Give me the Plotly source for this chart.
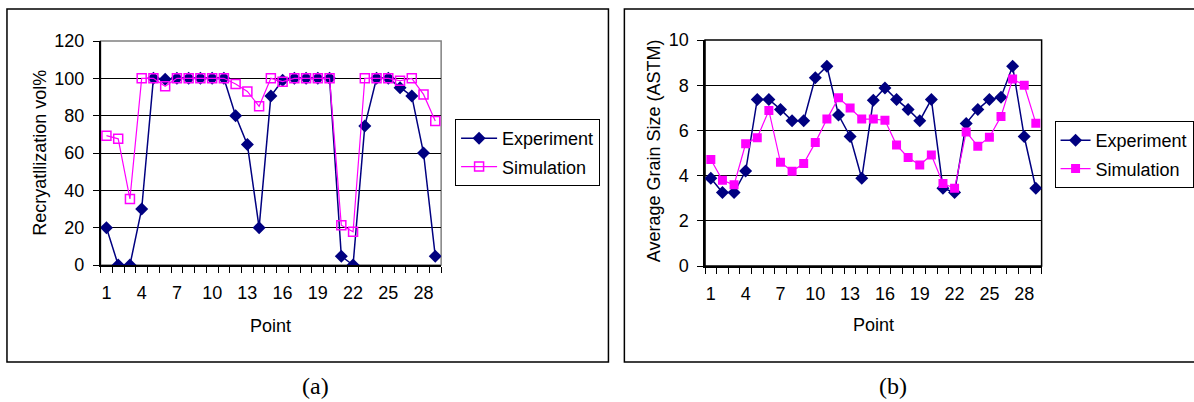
import plotly.graph_objects as go

W, H = 1194, 402

points = list(range(1, 30))
x_tick_vals = [1, 4, 7, 10, 13, 16, 19, 22, 25, 28]
x_tick_labels = ["1", "4", "7", "10", "13", "16", "19", "22", "25", "28"]

# (a) Recrystallization vol%
recryst_experiment = [20, 0, 0, 30, 100, 99.5, 100, 100, 100, 100, 100, 80, 64.5, 20, 90.5,
                      99, 100, 100, 100, 100, 4.7, 0, 74.5, 100, 100, 95, 90.5, 60, 4.7]
recryst_simulation = [69.3, 67.6, 35.4, 100, 100, 95.8, 100, 100, 100, 100, 100, 97, 93, 85,
                      100, 98.2, 100, 100, 100, 100, 21.3, 17.8, 100, 100, 100, 98.7, 100, 91.4, 77.2]

# (b) Average grain size (ASTM)
grain_experiment = [3.88, 3.25, 3.25, 4.2, 7.37, 7.37, 6.93, 6.43, 6.43, 8.33, 8.84, 6.68, 5.73,
                    3.88, 7.33, 7.88, 7.37, 6.93, 6.43, 7.37, 3.44, 3.25, 6.31, 6.93, 7.37, 7.47,
                    8.84, 5.73, 3.44]
grain_simulation = [4.71, 3.79, 3.59, 5.41, 5.68, 6.88, 4.59, 4.19, 4.53, 5.46, 6.5, 7.44, 6.99,
                    6.5, 6.5, 6.45, 5.35, 4.8, 4.47, 4.91, 3.65, 3.44, 5.93, 5.3, 5.7, 6.62, 8.27,
                    8.0, 6.32]

NAVY = "#000080"
MAG = "#FF00FF"
FONT = "Liberation Sans, Arial, sans-serif"
FS = 18


def px_x(p):
    return p / W


def px_y(p):
    return 1 - p / H


fig = go.Figure()

fig.add_trace(go.Scatter(x=points, y=recryst_experiment, name="Experiment", mode="lines+markers",
                         line=dict(color=NAVY, width=1.5),
                         marker=dict(symbol="diamond", size=10, color=NAVY),
                         xaxis="x", yaxis="y", legend="legend", legendgroup="a1"))
fig.add_trace(go.Scatter(x=points, y=recryst_simulation, name="Simulation", mode="lines+markers",
                         line=dict(color=MAG, width=1.2),
                         marker=dict(symbol="square-open", size=9, color=MAG, line=dict(width=1.5, color=MAG)),
                         xaxis="x", yaxis="y", legend="legend", legendgroup="a2"))
fig.add_trace(go.Scatter(x=points, y=grain_experiment, name="Experiment", mode="lines+markers",
                         line=dict(color=NAVY, width=1.5),
                         marker=dict(symbol="diamond", size=10, color=NAVY),
                         xaxis="x2", yaxis="y2", legend="legend2", legendgroup="b1"))
fig.add_trace(go.Scatter(x=points, y=grain_simulation, name="Simulation", mode="lines+markers",
                         line=dict(color=MAG, width=1.2),
                         marker=dict(symbol="square", size=9, color=MAG),
                         xaxis="x2", yaxis="y2", legend="legend2", legendgroup="b2"))

minor_ticks = dict(tickvals=[i + 0.5 for i in range(0, 30)], ticks="outside", ticklen=6,
                   tickcolor="black", tickwidth=1, showgrid=False)

xcommon = dict(range=[0.5, 29.5], tickmode="array", tickvals=x_tick_vals, ticktext=x_tick_labels,
               ticks="", showgrid=False, zeroline=False, showline=True, linecolor="black",
               linewidth=1.5, minor=minor_ticks, ticklabelstandoff=11, automargin=False,
               tickfont=dict(family=FONT, size=FS, color="black"))
ycommon = dict(ticks="outside", ticklen=6, tickcolor="black", showgrid=True, gridcolor="black",
               gridwidth=1, zeroline=False, showline=True, linecolor="black", linewidth=1.5,
               ticklabelstandoff=5, automargin=False, tickfont=dict(family=FONT, size=FS, color="black"))

fig.update_layout(
    width=W, height=H, autosize=False,
    margin=dict(l=0, r=0, t=0, b=0, pad=0),
    paper_bgcolor="white", plot_bgcolor="white",
    xaxis=dict(domain=[px_x(101), px_x(443)], anchor="y", **xcommon),
    yaxis=dict(domain=[px_y(265), px_y(41)], anchor="x", range=[0, 120], dtick=20, **ycommon),
    xaxis2=dict(domain=[px_x(708), px_x(1046)], anchor="y2", **xcommon),
    yaxis2=dict(domain=[px_y(266), px_y(40)], anchor="x2", range=[0, 10], dtick=2, **ycommon),
    legend=dict(x=px_x(457), y=px_y(119), xanchor="left", yanchor="top",
                bordercolor="black", borderwidth=1, bgcolor="white",
                font=dict(family=FONT, size=FS, color="black"), tracegroupgap=2,
                itemwidth=36),
    legend2=dict(x=px_x(1059), y=px_y(121), xanchor="left", yanchor="top",
                 bordercolor="black", borderwidth=1, bgcolor="white",
                 font=dict(family=FONT, size=FS, color="black"), tracegroupgap=2,
                 itemwidth=30),
    showlegend=True,
)

shapes = [
    # panel frames
    dict(type="rect", xref="paper", yref="paper", x0=px_x(7), x1=px_x(611), y0=px_y(362), y1=px_y(9),
         line=dict(color="black", width=1.5)),
    dict(type="rect", xref="paper", yref="paper", x0=px_x(627), x1=px_x(1200), y0=px_y(362), y1=px_y(9),
         line=dict(color="black", width=1.5)),
    # plot area borders
    dict(type="rect", xref="x domain", yref="y domain", x0=0, x1=1, y0=0, y1=1,
         line=dict(color="#808080", width=1.5), layer="below"),
    dict(type="rect", xref="x2 domain", yref="y2 domain", x0=0, x1=1, y0=0, y1=1,
         line=dict(color="black", width=1.5), layer="below"),
]
fig.update_layout(shapes=shapes)

title_font = dict(family=FONT, size=FS, color="black")
cap_font = dict(family="Liberation Serif, Times New Roman, serif", size=24, color="black")
annotations = [
    dict(text="Recryatllization vol%", x=px_x(40), y=px_y(153), textangle=-90, font=title_font),
    dict(text="Point", x=px_x(272), y=px_y(326), font=title_font),
    dict(text="Average Grain Size (ASTM)", x=px_x(657), y=px_y(151), textangle=-90, font=title_font),
    dict(text="Point", x=px_x(877), y=px_y(325), font=title_font),
    dict(text="(a)", x=px_x(317), y=px_y(386), font=cap_font),
    dict(text="(b)", x=px_x(897), y=px_y(386), font=cap_font),
]
for a in annotations:
    a.update(xref="paper", yref="paper", xanchor="center", yanchor="middle", showarrow=False)
fig.update_layout(annotations=annotations)

fig.write_html("out.html", config={"displayModeBar": False},
               post_script="document.body.style.margin='0px';document.body.style.overflow='hidden';")
